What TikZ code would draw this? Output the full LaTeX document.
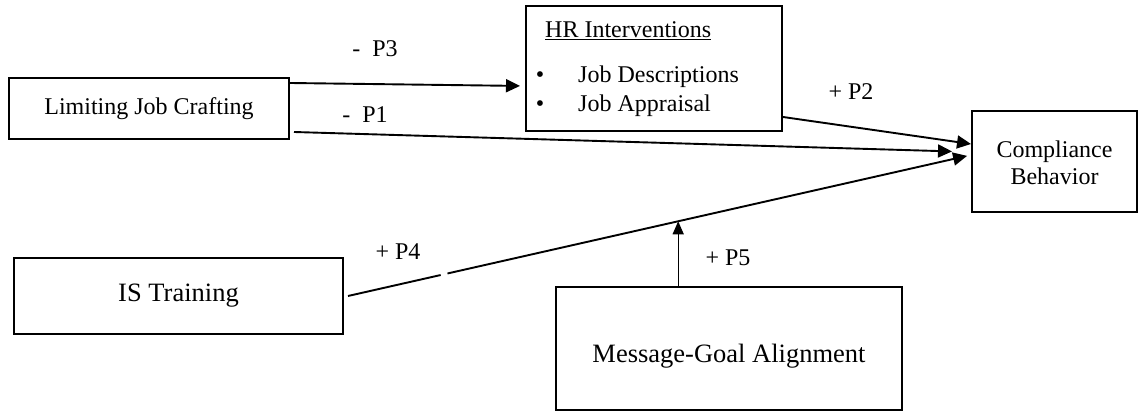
\documentclass[tikz,border=0pt]{standalone}
\usepackage{fontspec}
\setmainfont{Liberation Serif}
\usetikzlibrary{arrows.meta,calc}
\newcommand\lblfont{\fontsize{24}{27}\selectfont}
\newcommand\bigfont{\fontsize{26.5}{29}\selectfont}
\tikzset{
  box/.style={draw, line width=2pt, inner sep=0pt, font=\lblfont, align=center},
  lab/.style={inner sep=0pt, font=\lblfont},
  arr/.style={line width=1.9pt, -{Triangle[length=14pt,width=13pt]}},
  thinarr/.style={line width=1.3pt, -{Triangle[length=13pt,width=11pt]}}
}
\begin{document}
\begin{tikzpicture}[x=1pt,y=1pt]
\useasboundingbox (0,0) rectangle (1142,414);
% boxes
\node[box, minimum width=280pt, minimum height=61pt] (lim) at (149,305.5) {Limiting Job Crafting};
\node[box, minimum width=256pt, minimum height=125pt] (hr) at (654,345.5) {};
\node[box, minimum width=165pt, minimum height=101pt] (comp) at (1054.5,252.5) {\raisebox{-4pt}[\height][\depth]{\begin{tabular}{@{}c@{}}Compliance\\Behavior\end{tabular}}};
\node[box, minimum width=329pt, minimum height=76pt, font=\bigfont] (is) at (178.5,118) {IS Training};
\node[box, minimum width=346pt, minimum height=123pt, font=\bigfont] (msg) at (729,65.5) {\raisebox{-8pt}[\height][\depth]{Message-Goal Alignment}};
% HR contents
\node[lab, anchor=base west] (hrtitle) at (545,376) {\underline{HR Interventions}};
\node[lab] (b1) at (540,337) {•};
\node[lab] (b2) at (540,308) {•};
\node[lab, anchor=base west] (jd) at (578,331) {Job Descriptions};
\node[lab, anchor=base west] (ja) at (578,302.5) {Job Appraisal};
% connectors
\coordinate (a4) at ([xshift=4pt]is.east);
\coordinate (b4) at ([yshift=6.5pt]comp.west);
\draw[arr, shorten >=5pt] ([yshift=25.5pt]lim.east) -- ([yshift=-17.5pt]hr.west);
\draw[arr, shorten >=19pt] ([xshift=4pt,yshift=-23.5pt]lim.east) -- ([yshift=9.5pt]comp.west);
\draw[arr] ([yshift=15pt]hr.south east) -- ([yshift=17.5pt]comp.west);
\draw[arr, shorten >=4pt, dash pattern=on 95pt off 7pt on 2000pt] (a4) -- (b4);
\coordinate (p5) at ($(a4)!0.53!(b4)$);
\draw[thinarr] (msg.north -| p5) -- (p5);
% labels
\node[lab] (l3) at (375,365) {-\ \ P3};
\node[lab] (l1) at (365,299) {-\ \ P1};
\node[lab] (l2) at (851,322) {+ P2};
\node[lab] (l4) at (398,162) {+ P4};
\node[lab] (l5) at (728,156) {+ P5};
\end{tikzpicture}
\end{document}
